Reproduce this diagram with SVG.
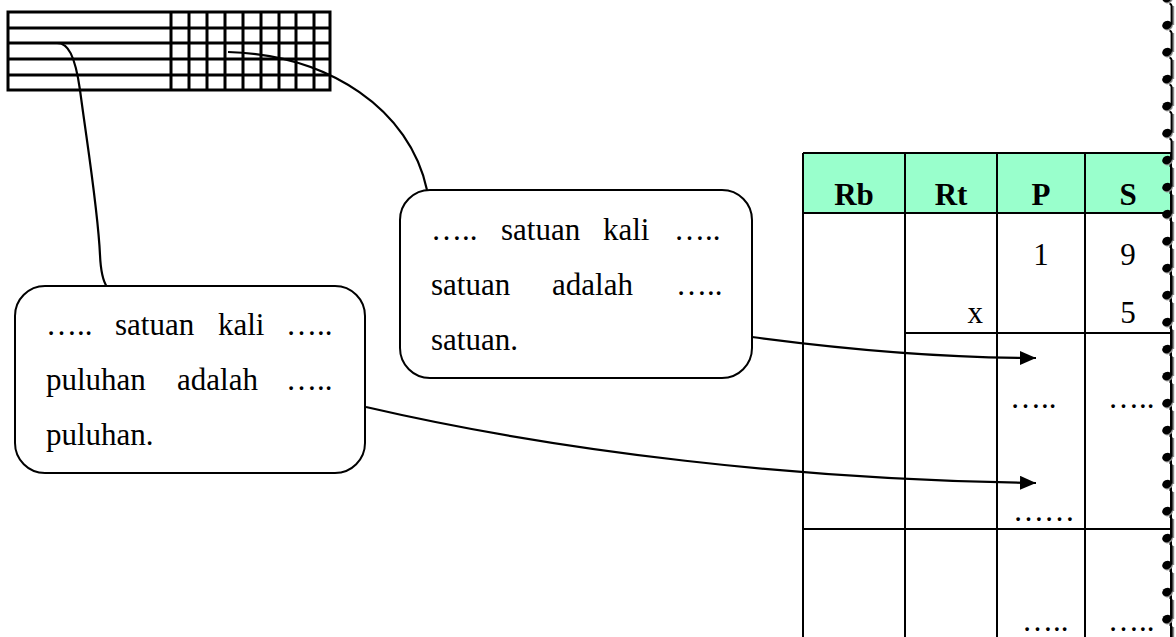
<svg xmlns="http://www.w3.org/2000/svg" xmlns:xlink="http://www.w3.org/1999/xlink" width="1176" height="637" viewBox="0 0 1176 637">
<style>
.grid{stroke:#000;stroke-width:3;fill:none}
.tbl{stroke:#000;stroke-width:2;fill:none}
.box{stroke:#000;stroke-width:2;fill:#fff}
.con{stroke:#000;stroke-width:2.2;fill:none}
.t{font-family:"Liberation Serif","Times New Roman",serif;font-size:31px;fill:#000}
.h{font-family:"Liberation Serif","Times New Roman",serif;font-size:31px;font-weight:bold;fill:#000;text-anchor:middle}
.c{text-anchor:middle}
</style>
<defs>
<marker id="arr" markerUnits="userSpaceOnUse" markerWidth="18" markerHeight="16" refX="16" refY="7" orient="auto">
<path d="M0,0 L16,7 L0,14 Z" fill="#000"/>
</marker>
<g id="note">
<ellipse cx="1" cy="1.2" rx="5" ry="4" transform="rotate(-25 1 1.2)" fill="#8a8a8a"/>
<line x1="6.2" y1="0" x2="6.2" y2="-19" stroke="#8a8a8a" stroke-width="2"/>
<ellipse cx="0" cy="0" rx="5" ry="4" transform="rotate(-25 0 0)" fill="#000"/>
<path d="M4.6,-0.5 L4.6,-19 Q4.3,-21 2.5,-21.5" stroke="#000" stroke-width="2" fill="none"/>
</g>
</defs>

<g id="mini-grid">
<rect x="8" y="12" width="322" height="78" class="grid"/>
<path class="grid" d="M8,28H330M8,43H330M8,59H330M8,75H330M171,12V90M189,12V90M207,12V90M225,12V90M243,12V90M261,12V90M279,12V90M296,12V90M314,12V90"/>
</g>

<g id="table">
<rect x="803" y="153" width="369" height="60" fill="#99FFCC"/>
<path class="tbl" d="M803,153H1172M803,213H1172M905,333H1172M803,529H1172M803,153V637M905,153V637M997,153V637M1085,153V637M1171,153V637"/>
<text class="h" x="854" y="205">Rb</text>
<text class="h" x="951" y="205">Rt</text>
<text class="h" x="1041" y="205">P</text>
<text class="h" x="1128" y="205">S</text>
<text class="t c" x="1041" y="265">1</text>
<text class="t c" x="1128" y="265">9</text>
<text class="t" x="983" y="323" text-anchor="end">x</text>
<text class="t c" x="1128" y="323">5</text>
<text class="t" x="1010" y="408">…..</text>
<text class="t" x="1108" y="408">…..</text>
<text class="t" x="1013" y="521">……</text>
<text class="t" x="1022" y="631">…..</text>
<text class="t" x="1108" y="631">…..</text>
</g>

<g id="connectors">
<path class="con" d="M57,43 C68,43 75,55 80,90 C88,150 98,210 100,255 Q101,278 107,287"/>
<path class="con" d="M228,52 C330,55 410,110 427,190"/>
<path class="con" d="M752,337 C850,350 950,358 1036,358" marker-end="url(#arr)"/>
<path class="con" d="M366,407 C560,452 800,480 1036,483" marker-end="url(#arr)"/>
</g>

<g id="box-puluhan">
<rect x="15" y="286" width="350" height="187" rx="30" ry="30" class="box"/>
<text class="t" y="335"><tspan x="46">…..</tspan><tspan x="115">satuan</tspan><tspan x="218">kali</tspan><tspan x="286">…..</tspan></text>
<text class="t" y="390"><tspan x="46">puluhan</tspan><tspan x="177">adalah</tspan><tspan x="286">…..</tspan></text>
<text class="t" y="445"><tspan x="46">puluhan.</tspan></text>
</g>

<g id="box-satuan">
<rect x="400" y="190" width="352" height="188" rx="30" ry="30" class="box"/>
<text class="t" y="240"><tspan x="431">…..</tspan><tspan x="501">satuan</tspan><tspan x="603">kali</tspan><tspan x="674">…..</tspan></text>
<text class="t" y="295"><tspan x="431">satuan</tspan><tspan x="552">adalah</tspan><tspan x="676">…..</tspan></text>
<text class="t" y="350"><tspan x="431">satuan.</tspan></text>
</g>

<g id="border-art">
<use xlink:href="#note" href="#note" x="1167" y="-2"/>
<use href="#note" x="1167" y="25"/>
<use href="#note" x="1167" y="52"/>
<use href="#note" x="1167" y="79"/>
<use href="#note" x="1167" y="106"/>
<use href="#note" x="1167" y="133"/>
<use href="#note" x="1167" y="160"/>
<use href="#note" x="1167" y="187"/>
<use href="#note" x="1167" y="214"/>
<use href="#note" x="1167" y="241"/>
<use href="#note" x="1167" y="268"/>
<use href="#note" x="1167" y="295"/>
<use href="#note" x="1167" y="322"/>
<use href="#note" x="1167" y="349"/>
<use href="#note" x="1167" y="376"/>
<use href="#note" x="1167" y="403"/>
<use href="#note" x="1167" y="430"/>
<use href="#note" x="1167" y="457"/>
<use href="#note" x="1167" y="484"/>
<use href="#note" x="1167" y="511"/>
<use href="#note" x="1167" y="538"/>
<use href="#note" x="1167" y="565"/>
<use href="#note" x="1167" y="592"/>
<use href="#note" x="1167" y="619"/>
<use href="#note" x="1167" y="646"/>
</g>
</svg>
